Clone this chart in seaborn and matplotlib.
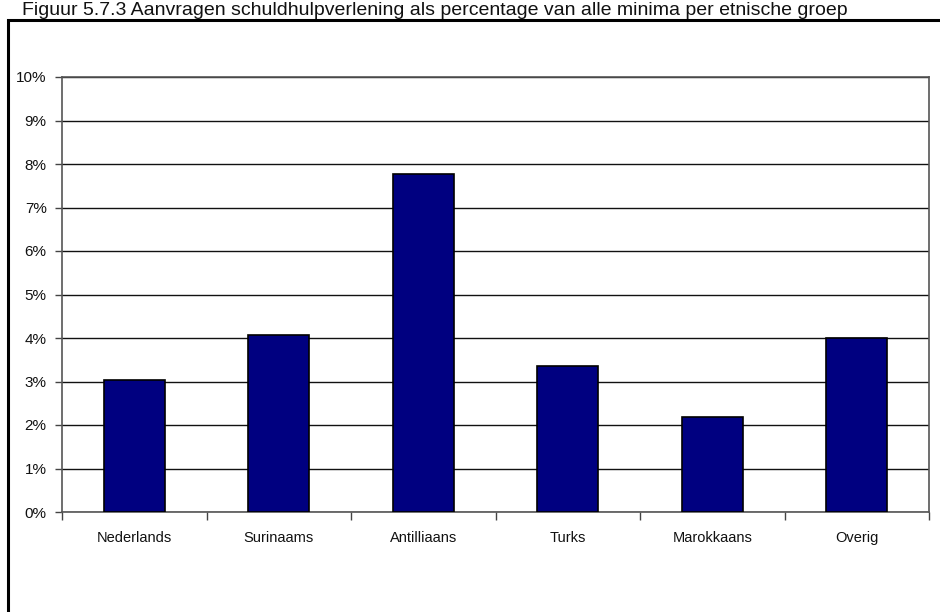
import numpy as np
import matplotlib
matplotlib.use("Agg")
import matplotlib.pyplot as plt
from matplotlib.patches import Rectangle
from matplotlib.ticker import FixedLocator, PercentFormatter
import seaborn as sns

# Data
groups = ['Nederlands', 'Surinaams', 'Antilliaans', 'Turks', 'Marokkaans', 'Overig']
percentages = [3.03, 4.07, 7.77, 3.36, 2.18, 4.00]
title = 'Figuur 5.7.3 Aanvragen schuldhulpverlening als percentage van alle minima per etnische groep'

sns.set_theme(style="white")
plt.rcParams['font.family'] = ['Liberation Sans', 'DejaVu Sans']

W, H = 940, 612
fig = plt.figure(figsize=(W / 100, H / 100), dpi=100)
ax = fig.add_axes([62 / W, (H - 512) / H, (929 - 62) / W, (512 - 77) / H])

sns.barplot(x=groups, y=percentages, color='#000080', width=0.42,
            edgecolor='black', linewidth=1.2, saturation=1, ax=ax, zorder=3)

ax.set_xlim(-0.5, len(groups) - 0.5)
ax.set_ylim(0, 10)
ax.set_yticks(np.arange(0, 11, 1))
ax.yaxis.set_major_formatter(PercentFormatter(decimals=0))
ax.grid(axis='y', color='#111111', linewidth=1.0, zorder=0)
ax.set_axisbelow(True)

# category boundary ticks on the x axis
ax.xaxis.set_minor_locator(FixedLocator(np.arange(-0.5, len(groups), 1)))
ax.tick_params(axis='x', which='major', length=0, pad=14, labelsize=10.5, colors='#111111')
ax.tick_params(axis='x', which='minor', length=6, width=1, color='#444444', direction='out', bottom=True)
ax.tick_params(axis='y', length=5, width=1, color='#444444', direction='out', left=True,
               labelsize=11, pad=6, colors='#111111')
ax.set_xlabel('')
ax.set_ylabel('')

for side in ['left', 'bottom', 'right', 'top']:
    ax.spines[side].set_color('#555555')
    ax.spines[side].set_linewidth(1.2)

# outer frame, partly running off the image
fig.patches.append(Rectangle((8 / W, -0.1), 1.2, (H - 20) / H + 0.1, transform=fig.transFigure,
                             fill=False, edgecolor='black', linewidth=2.2))

# title just above the frame
fig.text(22 / W, 1 - 15 / H, title, ha='left', va='baseline', fontsize=14, color='#111111')

fig.savefig('out.png', dpi=100)
